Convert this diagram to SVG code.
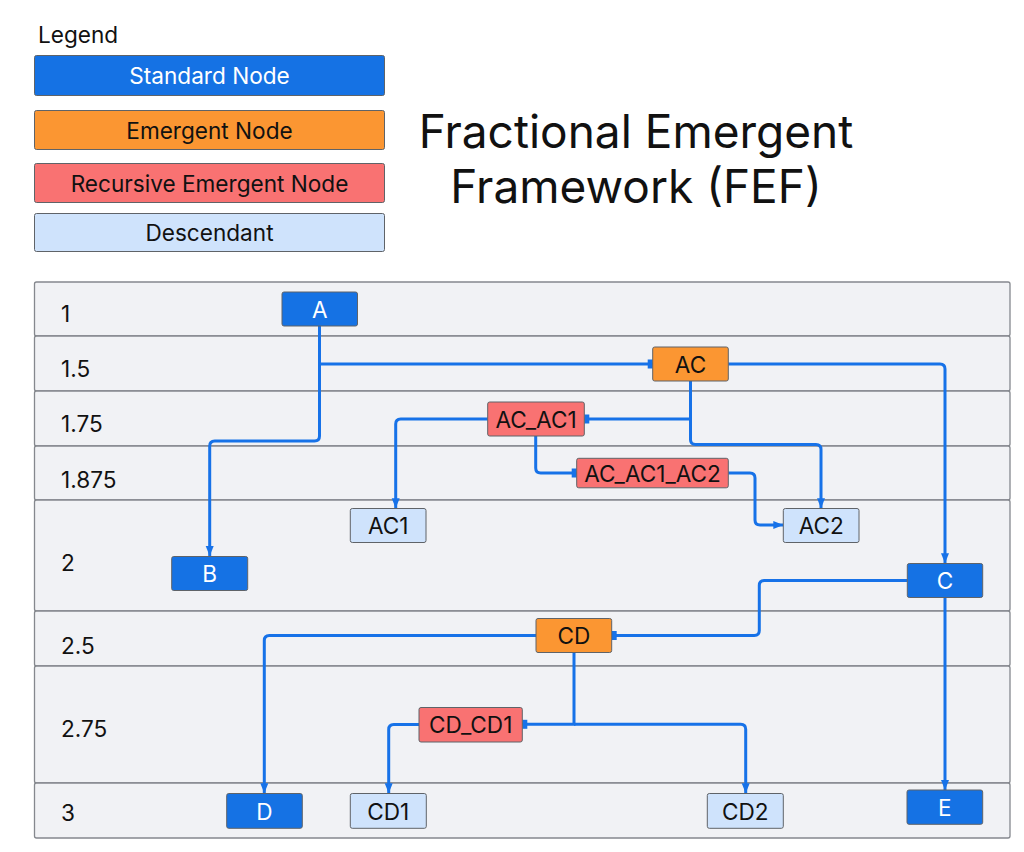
<svg xmlns="http://www.w3.org/2000/svg" width="1024" height="852" viewBox="0 0 1024 852">
<style>
text{font-family:Inter,"Noto Sans","Liberation Sans",sans-serif;}
.lane{fill:#f1f2f5;stroke:#85888e;stroke-width:1.3;}
.ll{font-size:22.6px;fill:#111;dominant-baseline:central;}
.n rect{stroke:#5f6368;stroke-width:1;}
.n text{font-size:22.6px;text-anchor:middle;dominant-baseline:central;}
.std rect{fill:#1572e4;} .std text{fill:#fff;}
.em rect{fill:#fb9632;} .em text{fill:#111;}
.rec rect{fill:#f97272;} .rec text{fill:#111;}
.des rect{fill:#cfe3fc;} .des text{fill:#111;}
.e{fill:none;stroke:#1772e8;stroke-width:3;}
.arr{marker-end:url(#arrow);}
.tee{marker-end:url(#tee);}
</style>
<defs>
<marker id="arrow" markerUnits="userSpaceOnUse" markerWidth="12" markerHeight="10" refX="10" refY="4" orient="auto"><path d="M0,0 L10,4 L0,8 z" fill="#1772e8"/></marker>
<marker id="tee" markerUnits="userSpaceOnUse" markerWidth="12" markerHeight="12" refX="10" refY="5" orient="auto"><rect x="5" y="0.5" width="5" height="9" fill="#1772e8"/></marker>
</defs>
<rect width="1024" height="852" fill="#fff"/>
<g id="legend">
<text x="38" y="43" style="font-size:22.6px;fill:#111">Legend</text>
<g class="n std"><rect x="34.5" y="55.5" width="350" height="40" rx="2"/><text x="209.5" y="75.5">Standard Node</text></g>
<g class="n em"><rect x="34.5" y="110.5" width="350" height="39" rx="2"/><text x="209.5" y="130">Emergent Node</text></g>
<g class="n rec"><rect x="34.5" y="163.5" width="350" height="39" rx="2"/><text x="209.5" y="183">Recursive Emergent Node</text></g>
<g class="n des"><rect x="34.5" y="213.5" width="350" height="38" rx="2"/><text x="209.5" y="232.5">Descendant</text></g>
</g>
<g id="title" style="font-size:46px;fill:#111;text-anchor:middle">
<text x="636" y="148">Fractional Emergent</text>
<text x="636" y="203">Framework (FEF)</text>
</g>
<g id="lanes">
<rect class="lane" x="34.5" y="282" width="975.5" height="54" rx="2"/>
<rect class="lane" x="34.5" y="336" width="975.5" height="55" rx="2"/>
<rect class="lane" x="34.5" y="391" width="975.5" height="55" rx="2"/>
<rect class="lane" x="34.5" y="446" width="975.5" height="54" rx="2"/>
<rect class="lane" x="34.5" y="500" width="975.5" height="111" rx="2"/>
<rect class="lane" x="34.5" y="611" width="975.5" height="55" rx="2"/>
<rect class="lane" x="34.5" y="666" width="975.5" height="117" rx="2"/>
<rect class="lane" x="34.5" y="783" width="975.5" height="55" rx="2"/>
<text class="ll" x="61" y="313">1</text>
<text class="ll" x="61" y="368">1.5</text>
<text class="ll" x="61" y="423">1.75</text>
<text class="ll" x="61" y="479">1.875</text>
<text class="ll" x="61" y="562">2</text>
<text class="ll" x="61" y="645">2.5</text>
<text class="ll" x="61" y="728">2.75</text>
<text class="ll" x="61" y="812">3</text>
</g>
<g id="connectors">
<path class="e arr" d="M319.5 326 V436 Q319.5 441 314.5 441 H214.7 Q209.7 441 209.7 446 V556"/>
<path class="e tee" d="M319.5 364 H652.7"/>
<path class="e arr" d="M728.3 364 H940 Q945 364 945 369 V563.3"/>
<path class="e tee" d="M690.5 419 H584.3"/>
<path class="e arr" d="M690.5 381 V439.5 Q690.5 444.5 695.5 444.5 H816 Q821 444.5 821 449.5 V508.3"/>
<path class="e arr" d="M487.7 419 H400.7 Q395.7 419 395.7 424 V508.3"/>
<path class="e tee" d="M535.7 436 V468 Q535.7 473 540.7 473 H576.7"/>
<path class="e arr" d="M728.3 473 H750 Q755 473 755 478 V520 Q755 525 760 525 H783.3"/>
<path class="e tee" d="M907.3 580.5 H764.3 Q759.3 580.5 759.3 585.5 V630.5 Q759.3 635.5 754.3 635.5 H611.7"/>
<path class="e arr" d="M945 597.7 V790"/>
<path class="e arr" d="M536 635.5 H269.3 Q264.3 635.5 264.3 640.5 V793.3"/>
<path class="e tee" d="M574 652.7 V724.3 H522.3"/>
<path class="e arr" d="M574 724.3 H740.7 Q745.7 724.3 745.7 729.3 V793.3"/>
<path class="e arr" d="M419 724.5 H393.7 Q388.7 724.5 388.7 729.5 V793.3"/>
</g>
<g id="node-A" class="n std"><rect x="282" y="292" width="75.5" height="34" rx="2"/><text x="319.7" y="309">A</text></g>
<g id="node-AC" class="n em"><rect x="652.7" y="347" width="75.6" height="34" rx="2"/><text x="690.5" y="364">AC</text></g>
<g id="node-AC_AC1" class="n rec"><rect x="487.7" y="402" width="96.6" height="34" rx="2"/><text x="536" y="419">AC_AC1</text></g>
<g id="node-AC_AC1_AC2" class="n rec"><rect x="576.7" y="458.3" width="151.6" height="29.5" rx="2"/><text x="652.5" y="473">AC_AC1_AC2</text></g>
<g id="node-AC1" class="n des"><rect x="350.3" y="508.5" width="75.7" height="34" rx="2"/><text x="388.2" y="525.5">AC1</text></g>
<g id="node-AC2" class="n des"><rect x="783.3" y="508.5" width="75.7" height="34" rx="2"/><text x="821.2" y="525.5">AC2</text></g>
<g id="node-B" class="n std"><rect x="171.7" y="556.5" width="76" height="34" rx="2"/><text x="209.7" y="573.5">B</text></g>
<g id="node-C" class="n std"><rect x="907.3" y="563.5" width="75.4" height="34" rx="2"/><text x="945" y="580.5">C</text></g>
<g id="node-CD" class="n em"><rect x="536" y="618.5" width="75.7" height="34" rx="2"/><text x="573.9" y="635.5">CD</text></g>
<g id="node-CD_CD1" class="n rec"><rect x="419" y="707.5" width="103.3" height="34.5" rx="2"/><text x="470.7" y="724.7">CD_CD1</text></g>
<g id="node-D" class="n std"><rect x="226.7" y="793.5" width="75.6" height="34.8" rx="2"/><text x="264.5" y="811">D</text></g>
<g id="node-CD1" class="n des"><rect x="350.3" y="793.5" width="76" height="34.8" rx="2"/><text x="388.3" y="811">CD1</text></g>
<g id="node-CD2" class="n des"><rect x="707.3" y="793.5" width="76" height="34.8" rx="2"/><text x="745.3" y="811">CD2</text></g>
<g id="node-E" class="n std"><rect x="907" y="790" width="75.7" height="34.3" rx="2"/><text x="944.8" y="807">E</text></g>
</svg>
